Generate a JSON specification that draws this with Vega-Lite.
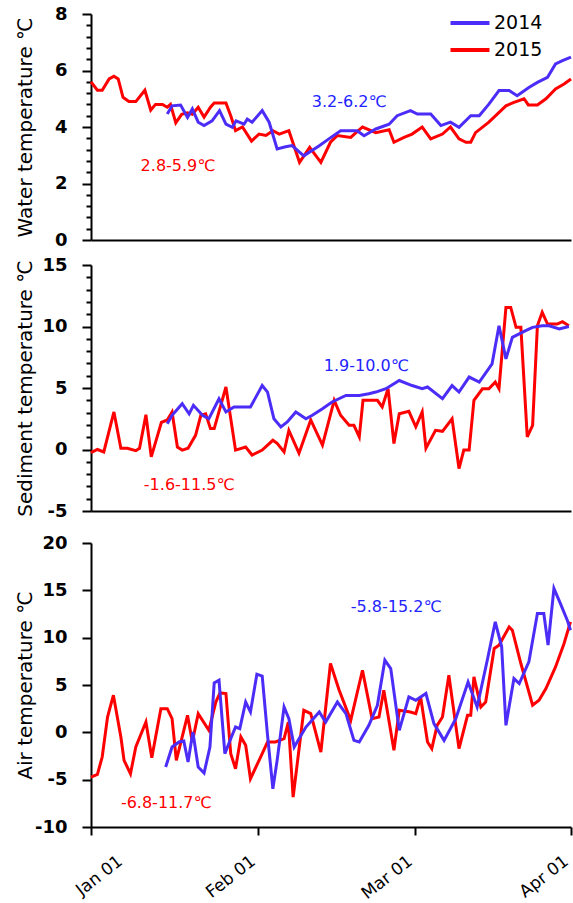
{
  "$schema": "https://vega.github.io/schema/vega-lite/v6.json",
  "background": "white",
  "padding": {"left": 14, "top": 5, "right": 0, "bottom": 0},
  "config": {
    "font": "DejaVu Sans",
    "view": {"stroke": null},
    "axis": {"domainColor": "#000", "domainWidth": 2, "tickColor": "#000", "tickWidth": 2, "labelColor": "#000", "titleColor": "#000", "grid": false, "labelFont": "DejaVu Sans", "labelFontSize": 18, "labelFontWeight": "bold", "titleFont": "DejaVu Sans", "titleFontSize": 20, "titleFontWeight": "normal", "labelOverlap": false, "labelFlush": false, "labelPadding": 15}
  },
  "datasets": {
    "temps": [
      {"panel":"water","year":"2015","day":0,"temp":5.6},{"panel":"water","year":"2015","day":1.2,"temp":5.3},{"panel":"water","year":"2015","day":2.1,"temp":5.3},{"panel":"water","year":"2015","day":3.4,"temp":5.7},{"panel":"water","year":"2015","day":4.3,"temp":5.8},{"panel":"water","year":"2015","day":5.1,"temp":5.7},{"panel":"water","year":"2015","day":6.0,"temp":5.05},{"panel":"water","year":"2015","day":7.1,"temp":4.9},{"panel":"water","year":"2015","day":8.4,"temp":4.9},{"panel":"water","year":"2015","day":10.1,"temp":5.3},{"panel":"water","year":"2015","day":11.2,"temp":4.6},{"panel":"water","year":"2015","day":12.1,"temp":4.8},{"panel":"water","year":"2015","day":13.4,"temp":4.8},{"panel":"water","year":"2015","day":14.3,"temp":4.7},{"panel":"water","year":"2015","day":14.9,"temp":4.8},{"panel":"water","year":"2015","day":15.9,"temp":4.15},{"panel":"water","year":"2015","day":17.0,"temp":4.45},{"panel":"water","year":"2015","day":18.1,"temp":4.5},{"panel":"water","year":"2015","day":19.0,"temp":4.45},{"panel":"water","year":"2015","day":20.1,"temp":4.7},{"panel":"water","year":"2015","day":21.2,"temp":4.35},{"panel":"water","year":"2015","day":22.4,"temp":4.7},{"panel":"water","year":"2015","day":23.1,"temp":4.85},{"panel":"water","year":"2015","day":25.3,"temp":4.85},{"panel":"water","year":"2015","day":26.2,"temp":4.4},{"panel":"water","year":"2015","day":27.1,"temp":3.87},{"panel":"water","year":"2015","day":28.4,"temp":4.0},{"panel":"water","year":"2015","day":30.1,"temp":3.5},{"panel":"water","year":"2015","day":31.5,"temp":3.75},{"panel":"water","year":"2015","day":32.8,"temp":3.7},{"panel":"water","year":"2015","day":34.1,"temp":3.87},{"panel":"water","year":"2015","day":35.3,"temp":3.75},{"panel":"water","year":"2015","day":37.1,"temp":3.87},{"panel":"water","year":"2015","day":39.1,"temp":2.75},{"panel":"water","year":"2015","day":41.0,"temp":3.28},{"panel":"water","year":"2015","day":43.1,"temp":2.75},{"panel":"water","year":"2015","day":44.9,"temp":3.46},{"panel":"water","year":"2015","day":46.2,"temp":3.7},{"panel":"water","year":"2015","day":48.7,"temp":3.63},{"panel":"water","year":"2015","day":50.9,"temp":4.0},{"panel":"water","year":"2015","day":53.4,"temp":3.8},{"panel":"water","year":"2015","day":55.9,"temp":3.9},{"panel":"water","year":"2015","day":56.8,"temp":3.46},{"panel":"water","year":"2015","day":58.7,"temp":3.63},{"panel":"water","year":"2015","day":60.2,"temp":3.75},{"panel":"water","year":"2015","day":62.1,"temp":4.0},{"panel":"water","year":"2015","day":63.7,"temp":3.58},{"panel":"water","year":"2015","day":65.9,"temp":3.75},{"panel":"water","year":"2015","day":67.4,"temp":4.0},{"panel":"water","year":"2015","day":69.0,"temp":3.58},{"panel":"water","year":"2015","day":70.3,"temp":3.46},{"panel":"water","year":"2015","day":71.2,"temp":3.46},{"panel":"water","year":"2015","day":72.1,"temp":3.8},{"panel":"water","year":"2015","day":74.6,"temp":4.17},{"panel":"water","year":"2015","day":77.8,"temp":4.75},{"panel":"water","year":"2015","day":79.3,"temp":4.87},{"panel":"water","year":"2015","day":81.2,"temp":5.0},{"panel":"water","year":"2015","day":82.0,"temp":4.78},{"panel":"water","year":"2015","day":83.7,"temp":4.78},{"panel":"water","year":"2015","day":85.3,"temp":5.0},{"panel":"water","year":"2015","day":87.1,"temp":5.35},{"panel":"water","year":"2015","day":88.7,"temp":5.52},{"panel":"water","year":"2015","day":90,"temp":5.7},

      {"panel":"water","year":"2014","day":14.3,"temp":4.46},{"panel":"water","year":"2014","day":15.2,"temp":4.75},{"panel":"water","year":"2014","day":16.8,"temp":4.78},{"panel":"water","year":"2014","day":18.1,"temp":4.34},{"panel":"water","year":"2014","day":19.0,"temp":4.64},{"panel":"water","year":"2014","day":20.1,"temp":4.17},{"panel":"water","year":"2014","day":21.2,"temp":4.05},{"panel":"water","year":"2014","day":22.7,"temp":4.22},{"panel":"water","year":"2014","day":24.1,"temp":4.58},{"panel":"water","year":"2014","day":25.3,"temp":4.1},{"panel":"water","year":"2014","day":26.5,"temp":3.99},{"panel":"water","year":"2014","day":27.2,"temp":4.22},{"panel":"water","year":"2014","day":28.7,"temp":4.1},{"panel":"water","year":"2014","day":29.3,"temp":4.28},{"panel":"water","year":"2014","day":30.2,"temp":4.17},{"panel":"water","year":"2014","day":32.1,"temp":4.58},{"panel":"water","year":"2014","day":33.4,"temp":4.17},{"panel":"water","year":"2014","day":34.9,"temp":3.22},{"panel":"water","year":"2014","day":36.5,"temp":3.3},{"panel":"water","year":"2014","day":37.7,"temp":3.34},{"panel":"water","year":"2014","day":39.9,"temp":2.98},{"panel":"water","year":"2014","day":42.8,"temp":3.34},{"panel":"water","year":"2014","day":44.6,"temp":3.58},{"panel":"water","year":"2014","day":46.8,"temp":3.87},{"panel":"water","year":"2014","day":49.9,"temp":3.87},{"panel":"water","year":"2014","day":51.2,"temp":3.69},{"panel":"water","year":"2014","day":53.4,"temp":3.93},{"panel":"water","year":"2014","day":55.9,"temp":4.1},{"panel":"water","year":"2014","day":57.4,"temp":4.4},{"panel":"water","year":"2014","day":59.9,"temp":4.58},{"panel":"water","year":"2014","day":61.2,"temp":4.46},{"panel":"water","year":"2014","day":63.7,"temp":4.46},{"panel":"water","year":"2014","day":65.6,"temp":4.05},{"panel":"water","year":"2014","day":67.4,"temp":4.17},{"panel":"water","year":"2014","day":69.0,"temp":3.99},{"panel":"water","year":"2014","day":71.2,"temp":4.4},{"panel":"water","year":"2014","day":72.8,"temp":4.4},{"panel":"water","year":"2014","day":74.6,"temp":4.81},{"panel":"water","year":"2014","day":76.5,"temp":5.29},{"panel":"water","year":"2014","day":78.4,"temp":5.29},{"panel":"water","year":"2014","day":79.9,"temp":5.11},{"panel":"water","year":"2014","day":82.1,"temp":5.4},{"panel":"water","year":"2014","day":83.7,"temp":5.58},{"panel":"water","year":"2014","day":85.6,"temp":5.76},{"panel":"water","year":"2014","day":87.1,"temp":6.23},{"panel":"water","year":"2014","day":88.4,"temp":6.35},{"panel":"water","year":"2014","day":90,"temp":6.47},

      {"panel":"sediment","year":"2015","day":0,"temp":-0.25},{"panel":"sediment","year":"2015","day":1.2,"temp":0},{"panel":"sediment","year":"2015","day":2.4,"temp":-0.2},{"panel":"sediment","year":"2015","day":4.3,"temp":3.05},{"panel":"sediment","year":"2015","day":5.6,"temp":0.1},{"panel":"sediment","year":"2015","day":6.8,"temp":0.1},{"panel":"sediment","year":"2015","day":8.4,"temp":-0.1},{"panel":"sediment","year":"2015","day":9.1,"temp":0.1},{"panel":"sediment","year":"2015","day":10.3,"temp":2.83},{"panel":"sediment","year":"2015","day":11.3,"temp":-0.6},{"panel":"sediment","year":"2015","day":13.2,"temp":2.2},{"panel":"sediment","year":"2015","day":14.3,"temp":2.4},{"panel":"sediment","year":"2015","day":15.2,"temp":3.05},{"panel":"sediment","year":"2015","day":16.2,"temp":0.2},{"panel":"sediment","year":"2015","day":17.1,"temp":-0.05},{"panel":"sediment","year":"2015","day":18.2,"temp":0.1},{"panel":"sediment","year":"2015","day":19.6,"temp":1.15},{"panel":"sediment","year":"2015","day":20.6,"temp":2.78},{"panel":"sediment","year":"2015","day":21.5,"temp":2.9},{"panel":"sediment","year":"2015","day":22.4,"temp":1.7},{"panel":"sediment","year":"2015","day":23.1,"temp":1.7},{"panel":"sediment","year":"2015","day":25.3,"temp":5.08},{"panel":"sediment","year":"2015","day":27.1,"temp":-0.05},{"panel":"sediment","year":"2015","day":29.0,"temp":0.2},{"panel":"sediment","year":"2015","day":30.2,"temp":-0.45},{"panel":"sediment","year":"2015","day":32.1,"temp":-0.05},{"panel":"sediment","year":"2015","day":34.1,"temp":0.75},{"panel":"sediment","year":"2015","day":34.9,"temp":0.5},{"panel":"sediment","year":"2015","day":36.2,"temp":-0.2},{"panel":"sediment","year":"2015","day":37.1,"temp":1.55},{"panel":"sediment","year":"2015","day":39.0,"temp":-0.3},{"panel":"sediment","year":"2015","day":41.2,"temp":2.4},{"panel":"sediment","year":"2015","day":43.4,"temp":0.35},{"panel":"sediment","year":"2015","day":45.6,"temp":4.0},{"panel":"sediment","year":"2015","day":46.8,"temp":2.78},{"panel":"sediment","year":"2015","day":48.4,"temp":1.97},{"panel":"sediment","year":"2015","day":49.3,"temp":1.97},{"panel":"sediment","year":"2015","day":50.3,"temp":1.03},{"panel":"sediment","year":"2015","day":51.0,"temp":4.0},{"panel":"sediment","year":"2015","day":53.7,"temp":4.0},{"panel":"sediment","year":"2015","day":54.6,"temp":3.46},{"panel":"sediment","year":"2015","day":55.7,"temp":4.94},{"panel":"sediment","year":"2015","day":56.8,"temp":0.49},{"panel":"sediment","year":"2015","day":57.8,"temp":2.9},{"panel":"sediment","year":"2015","day":59.6,"temp":3.1},{"panel":"sediment","year":"2015","day":60.9,"temp":1.84},{"panel":"sediment","year":"2015","day":62.1,"temp":3.05},{"panel":"sediment","year":"2015","day":62.8,"temp":0.1},{"panel":"sediment","year":"2015","day":64.6,"temp":1.56},{"panel":"sediment","year":"2015","day":65.9,"temp":1.48},{"panel":"sediment","year":"2015","day":67.7,"temp":2.5},{"panel":"sediment","year":"2015","day":69.0,"temp":-1.55},{"panel":"sediment","year":"2015","day":69.9,"temp":-0.05},{"panel":"sediment","year":"2015","day":70.9,"temp":-0.05},{"panel":"sediment","year":"2015","day":71.8,"temp":4.0},{"panel":"sediment","year":"2015","day":73.4,"temp":4.94},{"panel":"sediment","year":"2015","day":74.6,"temp":4.94},{"panel":"sediment","year":"2015","day":75.8,"temp":5.48},{"panel":"sediment","year":"2015","day":76.5,"temp":4.94},{"panel":"sediment","year":"2015","day":77.8,"temp":11.55},{"panel":"sediment","year":"2015","day":78.7,"temp":11.55},{"panel":"sediment","year":"2015","day":79.7,"temp":9.93},{"panel":"sediment","year":"2015","day":80.6,"temp":9.93},{"panel":"sediment","year":"2015","day":81.8,"temp":1.03},{"panel":"sediment","year":"2015","day":82.8,"temp":1.97},{"panel":"sediment","year":"2015","day":83.7,"temp":10.06},{"panel":"sediment","year":"2015","day":84.6,"temp":11.15},{"panel":"sediment","year":"2015","day":85.6,"temp":10.2},{"panel":"sediment","year":"2015","day":87.4,"temp":10.2},{"panel":"sediment","year":"2015","day":88.4,"temp":10.39},{"panel":"sediment","year":"2015","day":89.6,"temp":10.06},

      {"panel":"sediment","year":"2014","day":14.3,"temp":2.1},{"panel":"sediment","year":"2014","day":15.2,"temp":2.78},{"panel":"sediment","year":"2014","day":17.1,"temp":3.72},{"panel":"sediment","year":"2014","day":18.4,"temp":2.9},{"panel":"sediment","year":"2014","day":19.2,"temp":3.59},{"panel":"sediment","year":"2014","day":20.9,"temp":2.78},{"panel":"sediment","year":"2014","day":22.1,"temp":2.5},{"panel":"sediment","year":"2014","day":24.0,"temp":4.13},{"panel":"sediment","year":"2014","day":25.3,"temp":3.05},{"panel":"sediment","year":"2014","day":26.8,"temp":3.46},{"panel":"sediment","year":"2014","day":29.9,"temp":3.46},{"panel":"sediment","year":"2014","day":32.1,"temp":5.2},{"panel":"sediment","year":"2014","day":33.1,"temp":4.67},{"panel":"sediment","year":"2014","day":34.3,"temp":2.5},{"panel":"sediment","year":"2014","day":35.6,"temp":1.84},{"panel":"sediment","year":"2014","day":36.8,"temp":2.24},{"panel":"sediment","year":"2014","day":38.4,"temp":3.05},{"panel":"sediment","year":"2014","day":40.3,"temp":2.5},{"panel":"sediment","year":"2014","day":41.5,"temp":2.78},{"panel":"sediment","year":"2014","day":43.4,"temp":3.32},{"panel":"sediment","year":"2014","day":45.2,"temp":3.86},{"panel":"sediment","year":"2014","day":47.8,"temp":4.4},{"panel":"sediment","year":"2014","day":50.3,"temp":4.4},{"panel":"sediment","year":"2014","day":52.1,"temp":4.53},{"panel":"sediment","year":"2014","day":53.4,"temp":4.67},{"panel":"sediment","year":"2014","day":55.3,"temp":4.94},{"panel":"sediment","year":"2014","day":57.8,"temp":5.61},{"panel":"sediment","year":"2014","day":60.2,"temp":5.2},{"panel":"sediment","year":"2014","day":62.1,"temp":4.94},{"panel":"sediment","year":"2014","day":63.1,"temp":5.08},{"panel":"sediment","year":"2014","day":65.9,"temp":4.13},{"panel":"sediment","year":"2014","day":67.7,"temp":5.2},{"panel":"sediment","year":"2014","day":69.0,"temp":4.67},{"panel":"sediment","year":"2014","day":70.9,"temp":5.89},{"panel":"sediment","year":"2014","day":72.8,"temp":5.48},{"panel":"sediment","year":"2014","day":75.2,"temp":6.96},{"panel":"sediment","year":"2014","day":76.5,"temp":10.06},{"panel":"sediment","year":"2014","day":77.8,"temp":7.37},{"panel":"sediment","year":"2014","day":79.0,"temp":9.12},{"panel":"sediment","year":"2014","day":81.5,"temp":9.66},{"panel":"sediment","year":"2014","day":82.8,"temp":9.93},{"panel":"sediment","year":"2014","day":84.6,"temp":10.06},{"panel":"sediment","year":"2014","day":85.9,"temp":10.06},{"panel":"sediment","year":"2014","day":87.8,"temp":9.8},{"panel":"sediment","year":"2014","day":89.6,"temp":10.0},

      {"panel":"air","year":"2015","day":0,"temp":-4.73},{"panel":"air","year":"2015","day":1.2,"temp":-4.44},{"panel":"air","year":"2015","day":2.1,"temp":-2.61},{"panel":"air","year":"2015","day":3.1,"temp":1.62},{"panel":"air","year":"2015","day":4.2,"temp":3.92},{"panel":"air","year":"2015","day":5.6,"temp":-0.49},{"panel":"air","year":"2015","day":6.2,"temp":-2.96},{"panel":"air","year":"2015","day":7.4,"temp":-4.37},{"panel":"air","year":"2015","day":8.4,"temp":-1.55},{"panel":"air","year":"2015","day":10.3,"temp":1.09},{"panel":"air","year":"2015","day":11.4,"temp":-2.68},{"panel":"air","year":"2015","day":13.1,"temp":2.5},{"panel":"air","year":"2015","day":14.3,"temp":2.5},{"panel":"air","year":"2015","day":15.2,"temp":1.45},{"panel":"air","year":"2015","day":16.0,"temp":-2.96},{"panel":"air","year":"2015","day":17.1,"temp":-0.49},{"panel":"air","year":"2015","day":18.1,"temp":1.8},{"panel":"air","year":"2015","day":19.0,"temp":-1.02},{"panel":"air","year":"2015","day":20.1,"temp":1.98},{"panel":"air","year":"2015","day":22.1,"temp":0.21},{"panel":"air","year":"2015","day":23.4,"temp":3.2},{"panel":"air","year":"2015","day":24.2,"temp":4.16},{"panel":"air","year":"2015","day":25.3,"temp":4.1},{"panel":"air","year":"2015","day":26.2,"temp":-2.25},{"panel":"air","year":"2015","day":27.1,"temp":-3.84},{"panel":"air","year":"2015","day":28.1,"temp":-0.49},{"panel":"air","year":"2015","day":29.0,"temp":-1.37},{"panel":"air","year":"2015","day":29.9,"temp":-4.9},{"panel":"air","year":"2015","day":31.8,"temp":-2.61},{"panel":"air","year":"2015","day":33.1,"temp":-1.02},{"panel":"air","year":"2015","day":34.6,"temp":-1.02},{"panel":"air","year":"2015","day":36.2,"temp":-0.67},{"panel":"air","year":"2015","day":37.0,"temp":1.09},{"panel":"air","year":"2015","day":37.9,"temp":-6.85},{"panel":"air","year":"2015","day":39.9,"temp":2.33},{"panel":"air","year":"2015","day":41.2,"temp":1.98},{"panel":"air","year":"2015","day":43.1,"temp":-2.08},{"panel":"air","year":"2015","day":44.9,"temp":7.27},{"panel":"air","year":"2015","day":46.5,"temp":4.5},{"panel":"air","year":"2015","day":48.7,"temp":1.27},{"panel":"air","year":"2015","day":50.9,"temp":6.56},{"panel":"air","year":"2015","day":52.7,"temp":1.45},{"panel":"air","year":"2015","day":54.0,"temp":1.62},{"panel":"air","year":"2015","day":54.9,"temp":4.44},{"panel":"air","year":"2015","day":56.8,"temp":-1.9},{"panel":"air","year":"2015","day":57.8,"temp":2.33},{"panel":"air","year":"2015","day":59.9,"temp":2.15},{"panel":"air","year":"2015","day":60.9,"temp":1.98},{"panel":"air","year":"2015","day":61.8,"temp":3.74},{"panel":"air","year":"2015","day":63.1,"temp":-1.02},{"panel":"air","year":"2015","day":63.9,"temp":-1.72},{"panel":"air","year":"2015","day":64.9,"temp":0.74},{"panel":"air","year":"2015","day":65.9,"temp":1.62},{"panel":"air","year":"2015","day":67.1,"temp":6.03},{"panel":"air","year":"2015","day":69.0,"temp":-1.72},{"panel":"air","year":"2015","day":70.6,"temp":1.8},{"panel":"air","year":"2015","day":71.2,"temp":1.8},{"panel":"air","year":"2015","day":71.8,"temp":5.85},{"panel":"air","year":"2015","day":73.1,"temp":2.68},{"panel":"air","year":"2015","day":74.0,"temp":3.2},{"panel":"air","year":"2015","day":75.6,"temp":8.86},{"panel":"air","year":"2015","day":76.5,"temp":9.21},{"panel":"air","year":"2015","day":78.4,"temp":11.14},{"panel":"air","year":"2015","day":79.0,"temp":10.79},{"panel":"air","year":"2015","day":80.6,"temp":7.27},{"panel":"air","year":"2015","day":82.8,"temp":2.86},{"panel":"air","year":"2015","day":84.0,"temp":3.39},{"panel":"air","year":"2015","day":85.3,"temp":4.62},{"panel":"air","year":"2015","day":87.1,"temp":6.91},{"panel":"air","year":"2015","day":88.7,"temp":9.39},{"panel":"air","year":"2015","day":89.9,"temp":11.67},

      {"panel":"air","year":"2014","day":14.0,"temp":-3.67},{"panel":"air","year":"2014","day":15.2,"temp":-1.55},{"panel":"air","year":"2014","day":16.5,"temp":-1.02},{"panel":"air","year":"2014","day":17.4,"temp":-0.92},{"panel":"air","year":"2014","day":18.2,"temp":-3.14},{"panel":"air","year":"2014","day":19.1,"temp":0.03},{"panel":"air","year":"2014","day":20.1,"temp":-3.67},{"panel":"air","year":"2014","day":21.2,"temp":-4.3},{"panel":"air","year":"2014","day":22.3,"temp":-1.55},{"panel":"air","year":"2014","day":23.1,"temp":5.22},{"panel":"air","year":"2014","day":24.0,"temp":5.5},{"panel":"air","year":"2014","day":25.1,"temp":-2.25},{"panel":"air","year":"2014","day":26.2,"temp":-0.67},{"panel":"air","year":"2014","day":27.1,"temp":0.56},{"panel":"air","year":"2014","day":27.9,"temp":0.39},{"panel":"air","year":"2014","day":29.0,"temp":3.2},{"panel":"air","year":"2014","day":29.9,"temp":2.15},{"panel":"air","year":"2014","day":31.1,"temp":6.14},{"panel":"air","year":"2014","day":32.1,"temp":5.93},{"panel":"air","year":"2014","day":33.1,"temp":-0.3},{"panel":"air","year":"2014","day":34.1,"temp":-5.96},{"panel":"air","year":"2014","day":34.9,"temp":-2.96},{"panel":"air","year":"2014","day":36.2,"temp":2.68},{"panel":"air","year":"2014","day":37.1,"temp":1.45},{"panel":"air","year":"2014","day":38.1,"temp":-1.55},{"panel":"air","year":"2014","day":40.3,"temp":0.56},{"panel":"air","year":"2014","day":42.8,"temp":2.15},{"panel":"air","year":"2014","day":44.0,"temp":1.09},{"panel":"air","year":"2014","day":46.2,"temp":3.2},{"panel":"air","year":"2014","day":47.8,"temp":1.98},{"panel":"air","year":"2014","day":49.3,"temp":-0.85},{"panel":"air","year":"2014","day":50.3,"temp":-1.02},{"panel":"air","year":"2014","day":52.1,"temp":0.74},{"panel":"air","year":"2014","day":53.7,"temp":2.86},{"panel":"air","year":"2014","day":55.1,"temp":7.62},{"panel":"air","year":"2014","day":56.2,"temp":6.74},{"panel":"air","year":"2014","day":57.8,"temp":0.21},{"panel":"air","year":"2014","day":59.6,"temp":3.74},{"panel":"air","year":"2014","day":60.9,"temp":3.39},{"panel":"air","year":"2014","day":62.8,"temp":4.1},{"panel":"air","year":"2014","day":64.3,"temp":0.92},{"panel":"air","year":"2014","day":66.2,"temp":-0.85},{"panel":"air","year":"2014","day":68.4,"temp":1.45},{"panel":"air","year":"2014","day":70.7,"temp":5.32},{"panel":"air","year":"2014","day":72.4,"temp":2.68},{"panel":"air","year":"2014","day":74.3,"temp":7.62},{"panel":"air","year":"2014","day":75.8,"temp":11.67},{"panel":"air","year":"2014","day":77.0,"temp":9.03},{"panel":"air","year":"2014","day":77.8,"temp":0.74},{"panel":"air","year":"2014","day":79.3,"temp":5.68},{"panel":"air","year":"2014","day":80.3,"temp":5.15},{"panel":"air","year":"2014","day":82.1,"temp":7.44},{"panel":"air","year":"2014","day":83.7,"temp":12.56},{"panel":"air","year":"2014","day":84.9,"temp":12.56},{"panel":"air","year":"2014","day":85.7,"temp":9.21},{"panel":"air","year":"2014","day":86.8,"temp":15.2},{"panel":"air","year":"2014","day":88.0,"temp":13.62},{"panel":"air","year":"2014","day":89.3,"temp":11.85},{"panel":"air","year":"2014","day":89.9,"temp":10.79}
    ],
    "notes": [
      {"panel":"water","year":"2014","day":48.4,"temp":4.88,"label":"3.2-6.2℃"},
      {"panel":"water","year":"2015","day":16.3,"temp":2.62,"label":"2.8-5.9℃"},
      {"panel":"sediment","year":"2014","day":51.6,"temp":6.8,"label":"1.9-10.0℃"},
      {"panel":"sediment","year":"2015","day":18.4,"temp":-2.9,"label":"-1.6-11.5℃"},
      {"panel":"air","year":"2014","day":57.2,"temp":13.2,"label":"-5.8-15.2℃"},
      {"panel":"air","year":"2015","day":14.1,"temp":-7.5,"label":"-6.8-11.7℃"}
    ]
  },
  "spacing": 14,
  "vconcat": [
    {
      "spacing": 7,
      "vconcat": [
        {
          "width": 480, "height": 226,
          "encoding": {
            "x": {"field": "day", "type": "quantitative", "scale": {"domain": [0, 90], "nice": false, "zero": false}, "axis": {"labels": false, "ticks": false, "title": null}},
            "y": {"field": "temp", "type": "quantitative", "scale": {"domain": [0, 8], "nice": false},
              "axis": {"values": [0,0.4,0.8,1.2,1.6,2,2.4,2.8,3.2,3.6,4,4.4,4.8,5.2,5.6,6,6.4,6.8,7.2,7.6,8],
                "labelOverlap": false,
                "labelExpr": "abs(datum.value/2 - round(datum.value/2)) < 0.01 ? '' + datum.value : ''",
                "tickSize": {"condition": {"test": "abs(datum.value/2 - round(datum.value/2)) < 0.01", "value": 9}, "value": 5},
                "title": "Water temperature ℃", "titleX": -66, "titleY": 113, "titleAngle": -90, "titleAlign": "center", "titleBaseline": "middle"}}
          },
          "layer": [
            {
              "data": {"name": "temps"},
              "transform": [{"filter": "datum.panel === 'water'"}],
              "mark": {"type": "line", "strokeWidth": 3},
              "encoding": {
                "color": {"field": "year", "type": "nominal", "scale": {"domain": ["2014", "2015"], "range": ["#4B2DF7", "#FF0000"]},
                  "legend": {"orient": "none", "legendX": 367, "legendY": -3, "title": null, "symbolType": "M-2,0H2", "symbolSize": 380, "symbolStrokeWidth": 4, "symbolFillColor": "transparent", "labelFont": "DejaVu Sans", "labelFontSize": 19, "labelColor": "#000", "labelOffset": 12, "rowPadding": 5, "direction": "vertical"}}
              }
            },
            {
              "data": {"name": "notes"},
              "transform": [{"filter": "datum.panel === 'water'"}],
              "mark": {"type": "text", "fontSize": 16, "font": "DejaVu Sans", "align": "center", "baseline": "middle"},
              "encoding": {
                "text": {"field": "label"},
                "color": {"condition": {"test": "datum.year === '2014'", "value": "#2323FF"}, "value": "#FF0000"}
              }
            }
          ]
        },
        {
          "width": 480, "height": 246,
          "encoding": {
            "x": {"field": "day", "type": "quantitative", "scale": {"domain": [0, 90], "nice": false, "zero": false}, "axis": {"labels": false, "ticks": false, "title": null}},
            "y": {"field": "temp", "type": "quantitative", "scale": {"domain": [-5, 15], "nice": false},
              "axis": {"values": [-5,-4,-3,-2,-1,0,1,2,3,4,5,6,7,8,9,10,11,12,13,14,15],
                "labelOverlap": false,
                "labelExpr": "datum.value % 5 === 0 ? '' + datum.value : ''",
                "tickSize": {"condition": {"test": "datum.value % 5 === 0", "value": 9}, "value": 5},
                "title": "Sediment temperature ℃", "titleX": -66, "titleY": 123, "titleAngle": -90, "titleAlign": "center", "titleBaseline": "middle"}}
          },
          "layer": [
            {
              "data": {"name": "temps"},
              "transform": [{"filter": "datum.panel === 'sediment'"}],
              "mark": {"type": "line", "strokeWidth": 3},
              "encoding": {
                "color": {"field": "year", "type": "nominal", "scale": {"domain": ["2014", "2015"], "range": ["#4B2DF7", "#FF0000"]}, "legend": null}
              }
            },
            {
              "data": {"name": "notes"},
              "transform": [{"filter": "datum.panel === 'sediment'"}],
              "mark": {"type": "text", "fontSize": 16, "font": "DejaVu Sans", "align": "center", "baseline": "middle"},
              "encoding": {
                "text": {"field": "label"},
                "color": {"condition": {"test": "datum.year === '2014'", "value": "#2323FF"}, "value": "#FF0000"}
              }
            }
          ]
        }
      ]
    },
    {
      "width": 480, "height": 284,
      "encoding": {
        "x": {"field": "day", "type": "quantitative", "scale": {"domain": [0, 90], "nice": false, "zero": false},
          "axis": {"values": [0, 31.3, 60.75, 90], "labelExpr": "datum.value < 1 ? 'Jan 01' : datum.value < 40 ? 'Feb 01' : datum.value < 70 ? 'Mar 01' : 'Apr 01'",
            "labelAngle": -38, "labelAlign": "right", "labelBaseline": "middle", "labelFontWeight": "normal", "labelFontSize": 17, "tickSize": 8, "labelPadding": 24,
            "labelOffset": {"condition": {"test": "datum.value < 1", "value": 29}, "value": -5}, "title": null}},
        "y": {"field": "temp", "type": "quantitative", "scale": {"domain": [-10, 20], "nice": false},
          "axis": {"values": [-10, -5, 0, 5, 10, 15, 20], "labelExpr": "'' + datum.value", "tickSize": 9,
            "title": "Air temperature ℃", "titleX": -66, "titleY": 142, "titleAngle": -90, "titleAlign": "center", "titleBaseline": "middle"}}
      },
      "layer": [
        {
          "data": {"name": "temps"},
          "transform": [{"filter": "datum.panel === 'air'"}],
          "mark": {"type": "line", "strokeWidth": 3},
          "encoding": {
            "color": {"field": "year", "type": "nominal", "scale": {"domain": ["2014", "2015"], "range": ["#4B2DF7", "#FF0000"]}, "legend": null}
          }
        },
        {
          "data": {"name": "notes"},
          "transform": [{"filter": "datum.panel === 'air'"}],
          "mark": {"type": "text", "fontSize": 16, "font": "DejaVu Sans", "align": "center", "baseline": "middle"},
          "encoding": {
            "text": {"field": "label"},
            "color": {"condition": {"test": "datum.year === '2014'", "value": "#2323FF"}, "value": "#FF0000"}
          }
        }
      ]
    }
  ]
}
